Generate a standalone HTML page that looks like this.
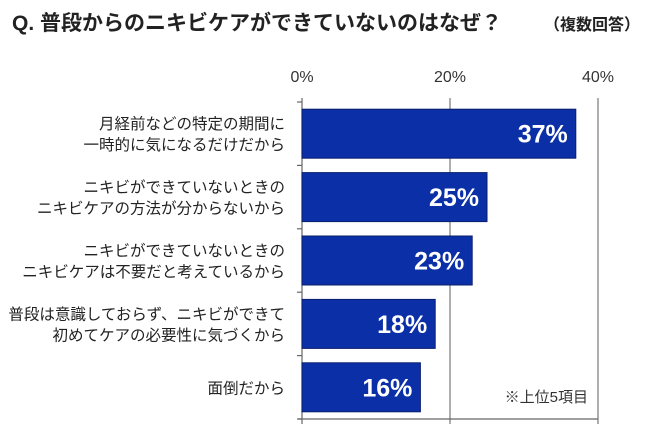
<!DOCTYPE html>
<html><head><meta charset="utf-8"><style>
body{margin:0;background:#fff;width:650px;height:438px;overflow:hidden;font-family:"Liberation Sans","Noto Sans CJK JP",sans-serif}
</style></head><body>
<svg width="650" height="438" style="position:absolute;left:0;top:0">
<text x="12" y="30" font-size="21" font-weight="bold" fill="#222">Q. 普段からのニキビケアができていないのはなぜ？<tspan font-size="16" dx="42">（複数回答）</tspan></text>
<g id="axes"></g><g id="bars"></g>
<text x="588" y="402" font-size="15" fill="#333" text-anchor="end">※上位5項目</text>
</svg>
<script>
const categories=[["月経前などの特定の期間に","一時的に気になるだけだから"],["ニキビができていないときの","ニキビケアの方法が分からないから"],["ニキビができていないときの","ニキビケアは不要だと考えているから"],["普段は意識しておらず、ニキビができて","初めてケアの必要性に気づくから"],["面倒だから"]];
const values=[37,25,23,18,16];
const ticks=[0,20,40];
const NS="http://www.w3.org/2000/svg";
const x0=302,x1=598,plotTop=102,plotBot=419,maxV=40;
const xs=v=>x0+(x1-x0)*v/maxV;
const band=(plotBot-plotTop)/values.length;
const ys=i=>plotTop+band*i;
const ax=document.getElementById('axes'),bg=document.getElementById('bars');
function mk(p,tag,a){const e=document.createElementNS(NS,tag);for(const k in a)e.setAttribute(k,a[k]);p.appendChild(e);return e;}
ticks.forEach(t=>{
 const g=mk(ax,'line',{x1:xs(t),x2:xs(t),y1:plotTop-4,y2:plotBot+5,stroke:t===0?'#666':'#777','stroke-width':1.2});
 
 
 const l=mk(ax,'text',{x:xs(t),y:82,'font-size':16,fill:'#333','text-anchor':'middle'});l.textContent=t+'%';
 
 
});
const bl=mk(ax,'line',{x1:x0-4,x2:x1,y1:plotBot,y2:plotBot,stroke:'#666','stroke-width':1.2});


for(let i=0;i<=values.length;i++){const t=mk(ax,'line',{x1:x0-5,x2:x0,y1:ys(i),y2:ys(i),stroke:'#666','stroke-width':1.2});
 
 }
values.forEach((v,i)=>{
 const cy=ys(i)+band/2,h=49;
 const r=mk(bg,'rect',{x:x0,y:cy-h/2,width:xs(v)-x0,height:h,fill:'#0b2fa6',stroke:'#0a1f6e','stroke-width':1});
 
 
 const t=mk(bg,'text',{x:xs(v)-8,y:cy+9,'font-size':25,'font-weight':'bold',fill:'#fff','text-anchor':'end'});t.textContent=v+'%';
 
 
 const lines=categories[i];
 lines.forEach((s,j)=>{const c=mk(bg,'text',{x:285,y:cy+6+(j-(lines.length-1)/2)*21,'font-size':15.5,fill:'#222','text-anchor':'end'});c.textContent=s;
  
  });
});
</script>
</body></html>
